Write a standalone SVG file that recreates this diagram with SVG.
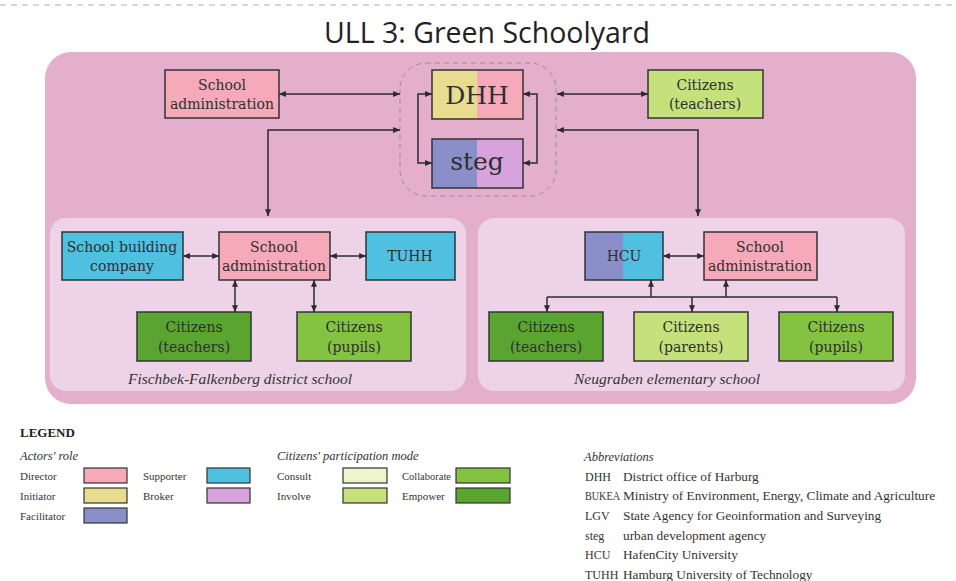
<svg xmlns="http://www.w3.org/2000/svg" width="956" height="581" viewBox="0 0 956 581">
<defs>
<marker id="ah" viewBox="0 0 8 7" refX="8" refY="3.5" markerWidth="7" markerHeight="6" markerUnits="userSpaceOnUse" orient="auto-start-reverse">
<path d="M0,0 L8,3.5 L0,7 z" fill="#2b2b2b"/>
</marker>
<style>
.node{stroke:#333;stroke-width:1.5}
.t{font-family:"DejaVu Serif","Liberation Serif",serif;font-size:14px;fill:#2f2f2f;text-anchor:middle}
.big{font-size:25px}
.cap{font-family:"Liberation Serif",serif;font-style:italic;font-size:15.5px;fill:#333;text-anchor:middle}
.lg{font-family:"Liberation Serif",serif;font-size:11px;fill:#333}
.ab{font-family:"Liberation Serif",serif;font-size:12px;fill:#333}
.ds{font-family:"Liberation Serif",serif;font-size:13.3px;fill:#333}
.lgi{font-family:"Liberation Serif",serif;font-size:12.5px;font-style:italic;fill:#333}
.sw{stroke:#333;stroke-width:1.2}
.c{fill:none;stroke:#2b2b2b;stroke-width:1.5}
.da{marker-start:url(#ah);marker-end:url(#ah)}
.ea{marker-end:url(#ah)}
.dir{fill:#f5a9b9}.ini{fill:#e7dc8f}.fac{fill:#8b8fc9}.sup{fill:#4fc0e0}.bro{fill:#d8a3dc}
.con{fill:#eef4cc}.inv{fill:#c5e17b}.col{fill:#84c242}.emp{fill:#5aa52f}
</style>
</defs>
<rect width="956" height="581" fill="#ffffff"/>
<line x1="0" y1="5" x2="956" y2="5" stroke="#d8d8d8" stroke-width="2" stroke-dasharray="6,5"/>
<text x="487" y="43" font-family="'Open Sans','Noto Sans',sans-serif" font-size="28.5" fill="#222" text-anchor="middle">ULL 3: Green Schoolyard</text>

<rect id="outer" x="45" y="52" width="871" height="352" rx="26" fill="#e3afcc"/>
<rect id="fischbek" x="50" y="218" width="416" height="173" rx="16" fill="#eed3e8"/>
<rect id="neugraben" x="478" y="218" width="427" height="173" rx="16" fill="#eed3e8"/>
<text class="cap" x="240" y="384">Fischbek-Falkenberg district school</text>
<text class="cap" x="667" y="384">Neugraben elementary school</text>

<g id="core-group">
<rect x="400" y="63" width="156" height="133" rx="26" fill="none" stroke="#9a8aa8" stroke-width="1" stroke-dasharray="5,4"/>
</g>

<g id="school-admin-top">
<rect class="node dir" x="165" y="70" width="114" height="48"/>
<text class="t" x="222" y="90">School</text>
<text class="t" x="222" y="109">administration</text>
</g>
<g id="dhh">
<rect class="ini" x="432" y="70" width="45" height="49"/>
<rect class="dir" x="477" y="70" width="46" height="49"/>
<rect x="432" y="70" width="91" height="49" fill="none" stroke="#333" stroke-width="1.5"/>
<text class="t big" x="477" y="104">DHH</text>
</g>
<g id="steg">
<rect class="fac" x="432" y="139" width="45" height="49"/>
<rect class="bro" x="477" y="139" width="46" height="49"/>
<rect x="432" y="139" width="91" height="49" fill="none" stroke="#333" stroke-width="1.5"/>
<text class="t big" x="477" y="170">steg</text>
</g>
<g id="citizens-teachers-top">
<rect class="node inv" x="648" y="70" width="115" height="48"/>
<text class="t" x="705" y="90">Citizens</text>
<text class="t" x="705" y="109">(teachers)</text>
</g>

<g id="school-building-company">
<rect class="node sup" x="62" y="232" width="121" height="48"/>
<text class="t" x="122" y="252">School building</text>
<text class="t" x="122" y="271">company</text>
</g>
<g id="school-admin-fischbek">
<rect class="node dir" x="219" y="232" width="111" height="48"/>
<text class="t" x="274" y="252">School</text>
<text class="t" x="274" y="271">administration</text>
</g>
<g id="tuhh">
<rect class="node sup" x="366" y="232" width="89" height="48"/>
<text class="t" x="410" y="261">TUHH</text>
</g>
<g id="citizens-teachers-fischbek">
<rect class="node emp" x="137" y="312" width="114" height="49"/>
<text class="t" x="194" y="332">Citizens</text>
<text class="t" x="194" y="352">(teachers)</text>
</g>
<g id="citizens-pupils-fischbek">
<rect class="node col" x="297" y="312" width="114" height="49"/>
<text class="t" x="354" y="332">Citizens</text>
<text class="t" x="354" y="352">(pupils)</text>
</g>

<g id="hcu">
<rect class="fac" x="585" y="232" width="38" height="48"/>
<rect class="sup" x="623" y="232" width="40" height="48"/>
<rect x="585" y="232" width="78" height="48" fill="none" stroke="#333" stroke-width="1.5"/>
<text class="t" x="624" y="261">HCU</text>
</g>
<g id="school-admin-neugraben">
<rect class="node dir" x="704" y="232" width="113" height="48"/>
<text class="t" x="760" y="252">School</text>
<text class="t" x="760" y="271">administration</text>
</g>
<g id="citizens-teachers-neugraben">
<rect class="node emp" x="489" y="312" width="114" height="49"/>
<text class="t" x="546" y="332">Citizens</text>
<text class="t" x="546" y="352">(teachers)</text>
</g>
<g id="citizens-parents-neugraben">
<rect class="node inv" x="634" y="312" width="114" height="49"/>
<text class="t" x="691" y="332">Citizens</text>
<text class="t" x="691" y="352">(parents)</text>
</g>
<g id="citizens-pupils-neugraben">
<rect class="node col" x="779" y="312" width="114" height="49"/>
<text class="t" x="836" y="332">Citizens</text>
<text class="t" x="836" y="352">(pupils)</text>
</g>

<g id="connectors">
<path class="c da" d="M279,94 H400"/>
<path class="c da" d="M400,130 H268 V216"/>
<path class="c da" d="M557,94 H648"/>
<path class="c da" d="M557,130 H698 V216"/>
<path class="c da" d="M432,94 H418 V163 H432"/>
<path class="c da" d="M523,94 H537 V163 H523"/>
<path class="c da" d="M183,256 H219"/>
<path class="c da" d="M330,256 H366"/>
<path class="c da" d="M235,280 V312"/>
<path class="c da" d="M314,280 V312"/>
<path class="c da" d="M663,256 H704"/>
<path class="c" d="M547,297 H837"/>
<path class="c ea" d="M547,297 V312"/>
<path class="c ea" d="M692,297 V312"/>
<path class="c ea" d="M837,297 V312"/>
<path class="c ea" d="M651,297 V280"/>
<path class="c ea" d="M726,297 V280"/>
</g>

<g id="legend">
<text x="20" y="437" font-family="'Liberation Serif',serif" font-weight="bold" font-size="13" fill="#222">LEGEND</text>
<text class="lgi" x="20" y="460">Actors' role</text>
<text class="lg" x="20" y="480">Director</text>
<rect class="sw dir" x="84" y="468" width="43" height="15"/>
<text class="lg" x="20" y="500">Initiator</text>
<rect class="sw ini" x="84" y="488" width="43" height="15"/>
<text class="lg" x="20" y="520">Facilitator</text>
<rect class="sw fac" x="84" y="508" width="43" height="15"/>
<text class="lg" x="143" y="480">Supporter</text>
<rect class="sw sup" x="207" y="468" width="43" height="15"/>
<text class="lg" x="143" y="500">Broker</text>
<rect class="sw bro" x="207" y="488" width="43" height="15"/>
<text class="lgi" x="277" y="460">Citizens' participation mode</text>
<text class="lg" x="277" y="480">Consult</text>
<rect class="sw con" x="343" y="468" width="44" height="15"/>
<text class="lg" x="277" y="500">Involve</text>
<rect class="sw inv" x="343" y="488" width="44" height="15"/>
<text class="lg" x="402" y="480" textLength="49" lengthAdjust="spacingAndGlyphs">Collaborate</text>
<rect class="sw col" x="456" y="468" width="54" height="15"/>
<text class="lg" x="402" y="500">Empower</text>
<rect class="sw emp" x="456" y="488" width="54" height="15"/>
<text class="lgi" x="584" y="461">Abbreviations</text>
<text class="ab" x="585" y="481">DHH</text><text class="ds" x="623" y="481">District office of Harburg</text>
<text class="ab" x="585" y="500" textLength="35" lengthAdjust="spacingAndGlyphs">BUKEA</text><text class="ds" x="623" y="500">Ministry of Environment, Energy, Climate and Agriculture</text>
<text class="ab" x="585" y="520">LGV</text><text class="ds" x="623" y="520">State Agency for Geoinformation and Surveying</text>
<text class="ab" x="585" y="540">steg</text><text class="ds" x="623" y="540">urban development agency</text>
<text class="ab" x="585" y="559">HCU</text><text class="ds" x="623" y="559">HafenCity University</text>
<text class="ab" x="585" y="579">TUHH</text><text class="ds" x="623" y="579">Hamburg University of Technology</text>
</g>
</svg>
